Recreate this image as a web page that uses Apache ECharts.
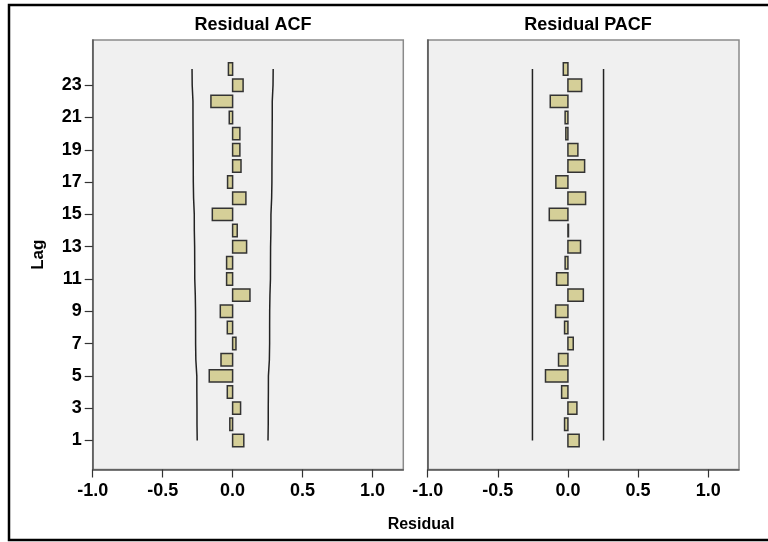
<!DOCTYPE html>
<html>
<head>
<meta charset="utf-8">
<script src="https://cdn.jsdelivr.net/npm/echarts@6/dist/echarts.min.js"></script>
<style>html,body{margin:0;padding:0;background:#fff}#c{width:768px;height:542px}</style>
</head>
<body>
<div id="c"></div>
<script>
const lags = [1,2,3,4,5,6,7,8,9,10,11,12,13,14,15,16,17,18,19,20,21,22,23,24];
const acf = [0.08,-0.02,0.057,-0.038,-0.167,-0.083,0.024,-0.038,-0.088,0.124,-0.043,-0.043,0.10,0.033,-0.145,0.095,-0.036,0.06,0.052,0.052,-0.024,-0.155,0.075,-0.03];
const pacf = [0.08,-0.024,0.064,-0.045,-0.16,-0.067,0.038,-0.024,-0.088,0.11,-0.081,-0.02,0.09,0.004,-0.133,0.126,-0.086,0.119,0.071,-0.015,-0.02,-0.126,0.098,-0.033];
const acfUpper = [0.253,0.2546,0.2547,0.2556,0.2559,0.2628,0.2645,0.2646,0.2650,0.2668,0.2705,0.2709,0.2714,0.2737,0.2740,0.2789,0.2809,0.2812,0.2820,0.2826,0.2833,0.2834,0.2888,0.2900];
const acfLower = [-0.253,-0.2546,-0.2547,-0.2556,-0.2559,-0.2628,-0.2645,-0.2646,-0.2650,-0.2668,-0.2705,-0.2709,-0.2714,-0.2737,-0.2740,-0.2789,-0.2809,-0.2812,-0.2820,-0.2826,-0.2833,-0.2834,-0.2888,-0.2900];
const pacfUpper = [0.254,0.254,0.254,0.254,0.254,0.254,0.254,0.254,0.254,0.254,0.254,0.254,0.254,0.254,0.254,0.254,0.254,0.254,0.254,0.254,0.254,0.254,0.254,0.254];
const pacfLower = [-0.253,-0.253,-0.253,-0.253,-0.253,-0.253,-0.253,-0.253,-0.253,-0.253,-0.253,-0.253,-0.253,-0.253,-0.253,-0.253,-0.253,-0.253,-0.253,-0.253,-0.253,-0.253,-0.253,-0.253];
const yTicks = [1,3,5,7,9,11,13,15,17,19,21,23];
const xTitles = ['Residual ACF','Residual PACF'];

const chart = echarts.init(document.getElementById('c'));
const font = 'Liberation Sans, Arial, sans-serif';
const pairs = (vals) => vals.map((v,i)=>[v, lags[i]]);

function renderBar(params, api){
  const v = api.value(0), lag = api.value(1);
  const p0 = api.coord([0, lag]);
  const p1 = api.coord([v, lag]);
  const h = api.size([0, 0.77])[1];
  const x = Math.min(p0[0], p1[0]);
  const w = Math.max(Math.abs(p1[0]-p0[0]), 0.5);
  return {type:'rect', shape:{x:x, y:p0[1]-h/2, width:w, height:h},
    style:{fill:'#d5cf98', stroke:'#333', lineWidth:1.5}};
}

function xAxisFor(idx){
  return {type:'value', gridIndex:idx, min:-1, max:1.22, interval:0.5,
    axisLine:{show:true, onZero:false, lineStyle:{color:'#555', width:1.5}},
    axisTick:{show:true, length:8, lineStyle:{color:'#333', width:1.2}},
    splitLine:{show:false},
    axisLabel:{showMaxLabel:false, color:'#000', fontFamily:font, fontWeight:'bold', fontSize:18, margin:13,
      formatter:(v)=> (Math.abs(v*2 - Math.round(v*2))<1e-6 && v<=1.0001) ? v.toFixed(1) : ''}};
}
function yAxisFor(idx){
  return {type:'value', gridIndex:idx, min:-0.8, max:25.8,
    axisLine:{show:true, onZero:false, lineStyle:{color:'#555', width:1.5}},
    axisTick:{show: idx===0, length:8, customValues: yTicks, lineStyle:{color:'#333', width:1.2}},
    splitLine:{show:false},
    axisLabel:{show: idx===0, customValues: yTicks, color:'#000', fontFamily:font, fontWeight:'bold', fontSize:18, margin:11},
    name: idx===0 ? 'Lag' : '', nameLocation:'middle', nameRotate:90, nameGap:46,
    nameTextStyle:{color:'#000', fontFamily:font, fontWeight:'bold', fontSize:17}};
}

function lineSeries(vals, idx){
  return {type:'line', xAxisIndex:idx, yAxisIndex:idx, data:pairs(vals), symbol:'none',
    lineStyle:{color:'#222', width:1.5}, silent:true, z:3};
}

chart.setOption({
  animation:false,
  backgroundColor:'#fff',
  title:[
    {text:xTitles[0], left:248, top:11, textAlign:'center', textStyle:{fontFamily:font, fontWeight:'bold', fontSize:18, color:'#000'}},
    {text:xTitles[1], left:583, top:11, textAlign:'center', textStyle:{fontFamily:font, fontWeight:'bold', fontSize:18, color:'#000'}},
    {text:'Residual', left:416, top:512, textAlign:'center', textStyle:{fontFamily:font, fontWeight:'bold', fontSize:16, color:'#000'}}
  ],
  graphic:[{type:'rect', shape:{x:9, y:5, width:800, height:535}, style:{fill:'none', stroke:'#000', lineWidth:2.5}, z:100}],
  grid:[
    {left:92.7, top:40, width:310.6, height:429.5, show:true, backgroundColor:'#f0f0f0', borderColor:'#8a8a8a', borderWidth:1.5},
    {left:427.7, top:40, width:311.3, height:429.5, show:true, backgroundColor:'#f0f0f0', borderColor:'#8a8a8a', borderWidth:1.5}
  ],
  xAxis:[xAxisFor(0), xAxisFor(1)],
  yAxis:[yAxisFor(0), yAxisFor(1)],
  series:[
    lineSeries(acfLower,0), lineSeries(acfUpper,0),
    lineSeries(pacfLower,1), lineSeries(pacfUpper,1),
    {type:'custom', xAxisIndex:0, yAxisIndex:0, data:pairs(acf), renderItem:renderBar, z:4},
    {type:'custom', xAxisIndex:1, yAxisIndex:1, data:pairs(pacf), renderItem:renderBar, z:4}
  ]
});
</script>
</body>
</html>
